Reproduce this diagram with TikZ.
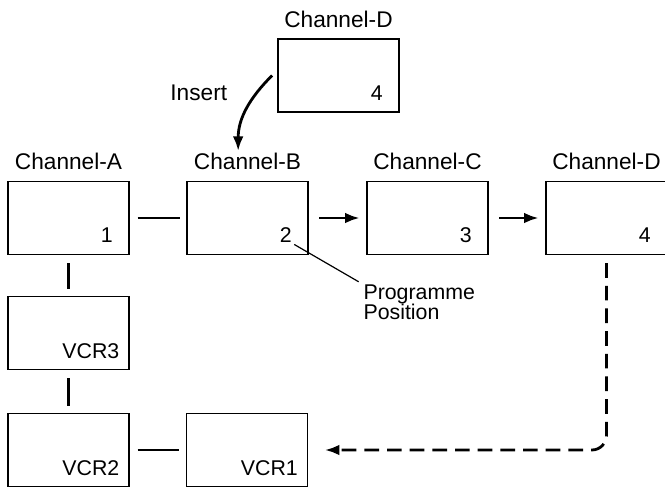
\documentclass[tikz,border=0pt]{standalone}
\usepackage{fontspec}
\setmainfont{Liberation Sans}
\usetikzlibrary{arrows.meta,calc,positioning}
\newcommand{\chanbox}[5]{%
  \node[box] (#1) at (#2,#3) {};
  \node[lab,above=8pt of #1] (lab#1) {#4};
  \node[num,above left=9pt and 12.5pt of #1.south east] (num#1) {#5};}
\newcommand{\vcrbox}[4]{%
  \node[box] (#1) at (#2,#3) {};
  \node[num,above left=8pt and 7.5pt of #1.south east] (num#1) {#4};}

\begin{document}
\begin{tikzpicture}[x=0.75pt,y=-0.75pt,
  box/.style={draw,line width=0.9pt,minimum width=90.75pt,minimum height=54.75pt,inner sep=0pt},
  lab/.style={font=\fontsize{17}{20}\selectfont,inner sep=0pt},
  num/.style={font=\fontsize{16}{15}\selectfont,inner sep=0pt},
  link/.style={line width=2.1pt,shorten <=6pt,shorten >=5pt},
  flow/.style={link,-{Latex[length=11pt,width=8pt]}},
  back/.style={flow,dash pattern=on 11pt off 6pt,rounded corners=11pt},
  lead/.style={line width=0.9pt,shorten <=2pt,shorten >=4pt}]
  \useasboundingbox (0,0) rectangle (665,487);
  % channel boxes
  \chanbox{T}{338.5}{75.5}{Channel-D}{4}
  \chanbox{A}{68.5}{218}{Channel-A}{1}
  \chanbox{B}{247.5}{218}{Channel-B}{2}
  \chanbox{C}{427.5}{218}{Channel-C}{3}
  \chanbox{D}{606.5}{218}{Channel-D}{4}
  % recorders
  \vcrbox{V3}{68.5}{333}{VCR3}
  \vcrbox{V2}{68.5}{450}{VCR2}
  \vcrbox{V1}{247}{450}{VCR1}
  % links
  \draw[link] (A) -- (B);
  \draw[flow,shorten <=8pt] (B) -- (C);
  \draw[flow,shorten <=8pt] (C) -- (D);
  \draw[link] (A) -- (V3);
  \draw[link] (V3) -- (V2);
  \draw[link] (V2) -- (V1);
  \draw[back,shorten >=12.5pt] (D.south) |- (V1.east);
  % insert
  \coordinate (insA) at ($(T.west)+(-4pt,0)$);
  \coordinate (insB) at ($(labB.north)+(-7pt,1.5pt)$);
  \draw[line width=2.1pt,-{Latex[length=11pt,width=8pt]}] (insA) to[out=225,in=90] (insB);
  \node[lab,below left=7pt and 37.5pt of T.west] (ins) {Insert};
  % programme position
  \node[num,align=left,below right=22pt and 41pt of B.south east] (prog) {Programme\\Position};
  \draw[lead] (numB.south east) -- (prog.north west);
\end{tikzpicture}
\end{document}
